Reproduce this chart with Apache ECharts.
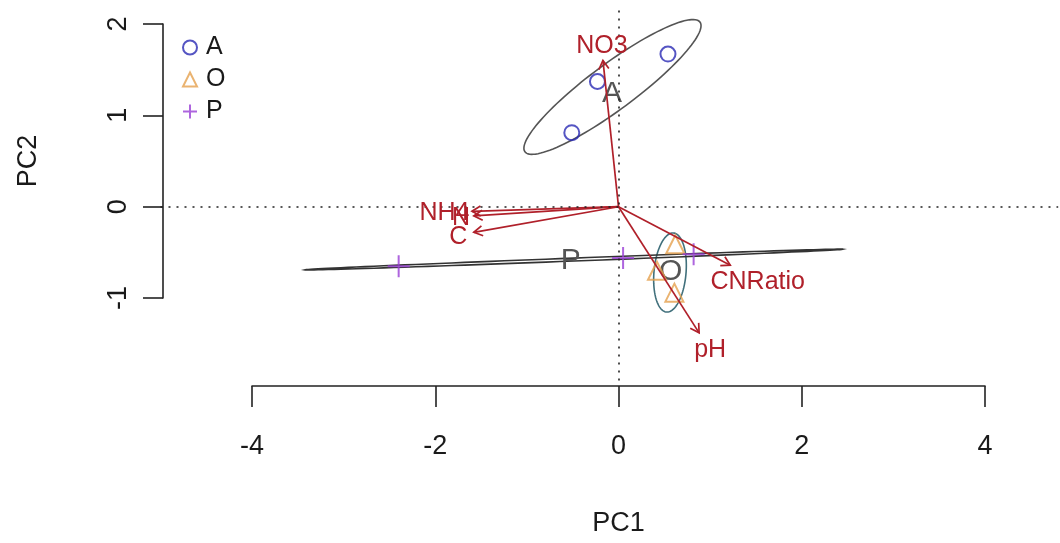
<!DOCTYPE html>
<html>
<head>
<meta charset="utf-8">
<script src="https://cdn.jsdelivr.net/npm/echarts@6/dist/echarts.min.js"></script>
<style>
  html, body { margin: 0; padding: 0; background: #fff; }
  #chart { width: 1060px; height: 543px; }
</style>
</head>
<body>
<div id="chart"></div>
<script>
// site scores per group
const groupNames = ['A', 'O', 'P'];
const aX = [-0.51, -0.23, 0.54];
const aY = [0.81, 1.37, 1.67];
const oX = [0.62, 0.42, 0.61];
const oY = [-0.41, -0.70, -0.94];
const pX = [-2.40, 0.05, 0.82];
const pY = [-0.65, -0.56, -0.52];

// group centroids, where the group name is written
const centX = [-0.07, 0.57, -0.52];
const centY = [1.24, -0.71, -0.59];

// group ellipses: centre, semi axes, angle in degrees
const ellX = [-0.066, 0.562, -0.486];
const ellY = [1.31, -0.72, -0.578];
const ellA = [1.19, 0.434, 2.94];
const ellB = [0.25, 0.175, 0.016];
const ellAng = [36.6, 85, 2.2];

// environmental vectors and their label spots
const envNames = ['NO3', 'NH4', 'N', 'C', 'CNRatio', 'pH'];
const envX = [-0.17, -1.60, -1.58, -1.58, 1.22, 0.88];
const envY = [1.60, -0.05, -0.10, -0.28, -0.64, -1.38];
const envLabX = [-0.18, -1.90, -1.72, -1.75, 1.52, 1.00];
const envLabY = [1.76, -0.07, -0.12, -0.33, -0.83, -1.57];

// axis ticks
const xTicks = [-4, -2, 0, 2, 4];
const yTicks = [-1, 0, 1, 2];

const FONT = 'Liberation Sans, Arial, Helvetica, sans-serif';
const BLUE = '#2a2ab4';
const ORANGE = '#e5a04e';
const PURPLE = '#9a3fd6';
const RED = '#b0202a';
const ellColors = ['#555555', '#41707c', '#333333'];
const PLUS = 'path://M0,5L10,5M5,0L5,10';

const zip = (xs, ys) => xs.map((x, i) => [x, ys[i]]);

const chart = echarts.init(document.getElementById('chart'));

function renderEllipse(params, api) {
  const cx = api.value(0), cy = api.value(1);
  const a = api.value(2), b = api.value(3);
  const th = api.value(4) * Math.PI / 180;
  const pts = [];
  for (let k = 0; k <= 120; k++) {
    const t = k / 120 * 2 * Math.PI;
    const ex = a * Math.cos(t), ey = b * Math.sin(t);
    pts.push(api.coord([cx + ex * Math.cos(th) - ey * Math.sin(th),
                        cy + ex * Math.sin(th) + ey * Math.cos(th)]));
  }
  return {
    type: 'polygon',
    shape: { points: pts },
    style: { fill: 'none', stroke: ellColors[params.dataIndex], lineWidth: 1.6 }
  };
}

function renderArrow(params, api) {
  const o = api.coord([0, 0]);
  const t = api.coord([api.value(0), api.value(1)]);
  const ang = Math.atan2(t[1] - o[1], t[0] - o[0]);
  const L = 10, w = Math.PI / 6;
  const h1 = [t[0] - L * Math.cos(ang - w), t[1] - L * Math.sin(ang - w)];
  const h2 = [t[0] - L * Math.cos(ang + w), t[1] - L * Math.sin(ang + w)];
  const st = { stroke: RED, lineWidth: 1.7, fill: null };
  return {
    type: 'group',
    children: [
      { type: 'line', shape: { x1: o[0], y1: o[1], x2: t[0], y2: t[1] }, style: st },
      { type: 'polyline', shape: { points: [h1, t, h2] }, style: st }
    ]
  };
}

function textRenderer(color, size) {
  return function (params, api) {
    const p = api.coord([api.value(0), api.value(1)]);
    return {
      type: 'text',
      x: p[0], y: p[1],
      style: {
        text: api.value(2), fill: color, fontSize: size, fontFamily: FONT,
        align: 'center', verticalAlign: 'middle'
      }
    };
  };
}

const axisTextStyle = { color: '#1a1a1a', fontSize: 27, fontFamily: FONT };
const axisLineStyle = { color: '#222', width: 1.6 };

chart.setOption({
  animation: false,
  backgroundColor: '#fff',
  grid: [
    { left: 160.5, top: 5.6, width: 897.7, height: 374.8 },
    { left: 252, top: 300, width: 733, height: 86 },
    { left: 163, top: 24, width: 100, height: 274 }
  ],
  xAxis: [
    { gridIndex: 0, type: 'value', min: -5, max: 4.8, show: false },
    {
      gridIndex: 1, type: 'value',
      min: xTicks[0], max: xTicks[xTicks.length - 1], interval: xTicks[1] - xTicks[0],
      axisLine: { show: true, onZero: false, lineStyle: axisLineStyle },
      axisTick: { show: true, length: 21, lineStyle: axisLineStyle },
      axisLabel: { show: true, margin: 47, showMinLabel: true, showMaxLabel: true, ...axisTextStyle },
      splitLine: { show: false },
      name: 'PC1', nameLocation: 'middle', nameGap: 124,
      nameTextStyle: axisTextStyle
    },
    { gridIndex: 2, type: 'value', min: 0, max: 1, show: false }
  ],
  yAxis: [
    { gridIndex: 0, type: 'value', min: -1.9, max: 2.2, show: false },
    { gridIndex: 1, type: 'value', min: 0, max: 1, show: false },
    {
      gridIndex: 2, type: 'value',
      min: yTicks[0], max: yTicks[yTicks.length - 1], interval: yTicks[1] - yTicks[0],
      axisLine: { show: true, onZero: false, lineStyle: axisLineStyle },
      axisTick: { show: true, length: 20, lineStyle: axisLineStyle },
      axisLabel: { show: true, margin: 31, rotate: 90, showMinLabel: true, showMaxLabel: true, ...axisTextStyle },
      splitLine: { show: false },
      name: 'PC2', nameLocation: 'middle', nameGap: 121,
      nameTextStyle: axisTextStyle
    }
  ],
  legend: {
    orient: 'vertical', left: 182, top: 35, itemGap: 7, padding: 0,
    itemWidth: 14, itemHeight: 14, selectedMode: false,
    textStyle: { color: '#1a1a1a', fontSize: 25, fontFamily: FONT, padding: [0, 0, 0, 4] },
    data: [
      { name: 'A', icon: 'circle', itemStyle: { color: 'rgba(0,0,0,0)', borderColor: BLUE, borderWidth: 2 } },
      { name: 'O', icon: 'triangle', itemStyle: { color: 'rgba(0,0,0,0)', borderColor: ORANGE, borderWidth: 2 } },
      { name: 'P', icon: PLUS, itemStyle: { color: 'rgba(0,0,0,0)', borderColor: PURPLE, borderWidth: 2 } }
    ]
  },
  series: [
    {
      type: 'custom', name: 'ellipses', xAxisIndex: 0, yAxisIndex: 0,
      renderItem: renderEllipse,
      data: ellX.map((x, i) => [x, ellY[i], ellA[i], ellB[i], ellAng[i]]),
      silent: true, z: 1,
      markLine: {
        silent: true, symbol: 'none', label: { show: false },
        lineStyle: { type: [2, 6], color: '#222', width: 1.6 },
        data: [{ xAxis: 0 }, { yAxis: 0 }]
      }
    },
    {
      type: 'custom', name: 'centroids', xAxisIndex: 0, yAxisIndex: 0,
      renderItem: textRenderer('#555', 30),
      data: centX.map((x, i) => [x, centY[i], groupNames[i]]),
      silent: true, z: 2
    },
    {
      type: 'scatter', name: 'A', xAxisIndex: 0, yAxisIndex: 0,
      data: zip(aX, aY), symbol: 'circle', symbolSize: 15,
      itemStyle: { color: 'rgba(0,0,0,0)', borderColor: BLUE, borderWidth: 2 }, z: 3
    },
    {
      type: 'scatter', name: 'O', xAxisIndex: 0, yAxisIndex: 0,
      data: zip(oX, oY), symbol: 'triangle', symbolSize: 18,
      itemStyle: { color: 'rgba(0,0,0,0)', borderColor: ORANGE, borderWidth: 2 }, z: 3
    },
    {
      type: 'scatter', name: 'P', xAxisIndex: 0, yAxisIndex: 0,
      data: zip(pX, pY), symbol: PLUS, symbolSize: 22,
      itemStyle: { color: 'rgba(0,0,0,0)', borderColor: PURPLE, borderWidth: 2 }, z: 3
    },
    {
      type: 'custom', name: 'vectors', xAxisIndex: 0, yAxisIndex: 0,
      renderItem: renderArrow,
      data: zip(envX, envY), silent: true, z: 4
    },
    {
      type: 'custom', name: 'vectorLabels', xAxisIndex: 0, yAxisIndex: 0,
      renderItem: textRenderer(RED, 25),
      data: envLabX.map((x, i) => [x, envLabY[i], envNames[i]]),
      silent: true, z: 5
    }
  ]
});
</script>
</body>
</html>
